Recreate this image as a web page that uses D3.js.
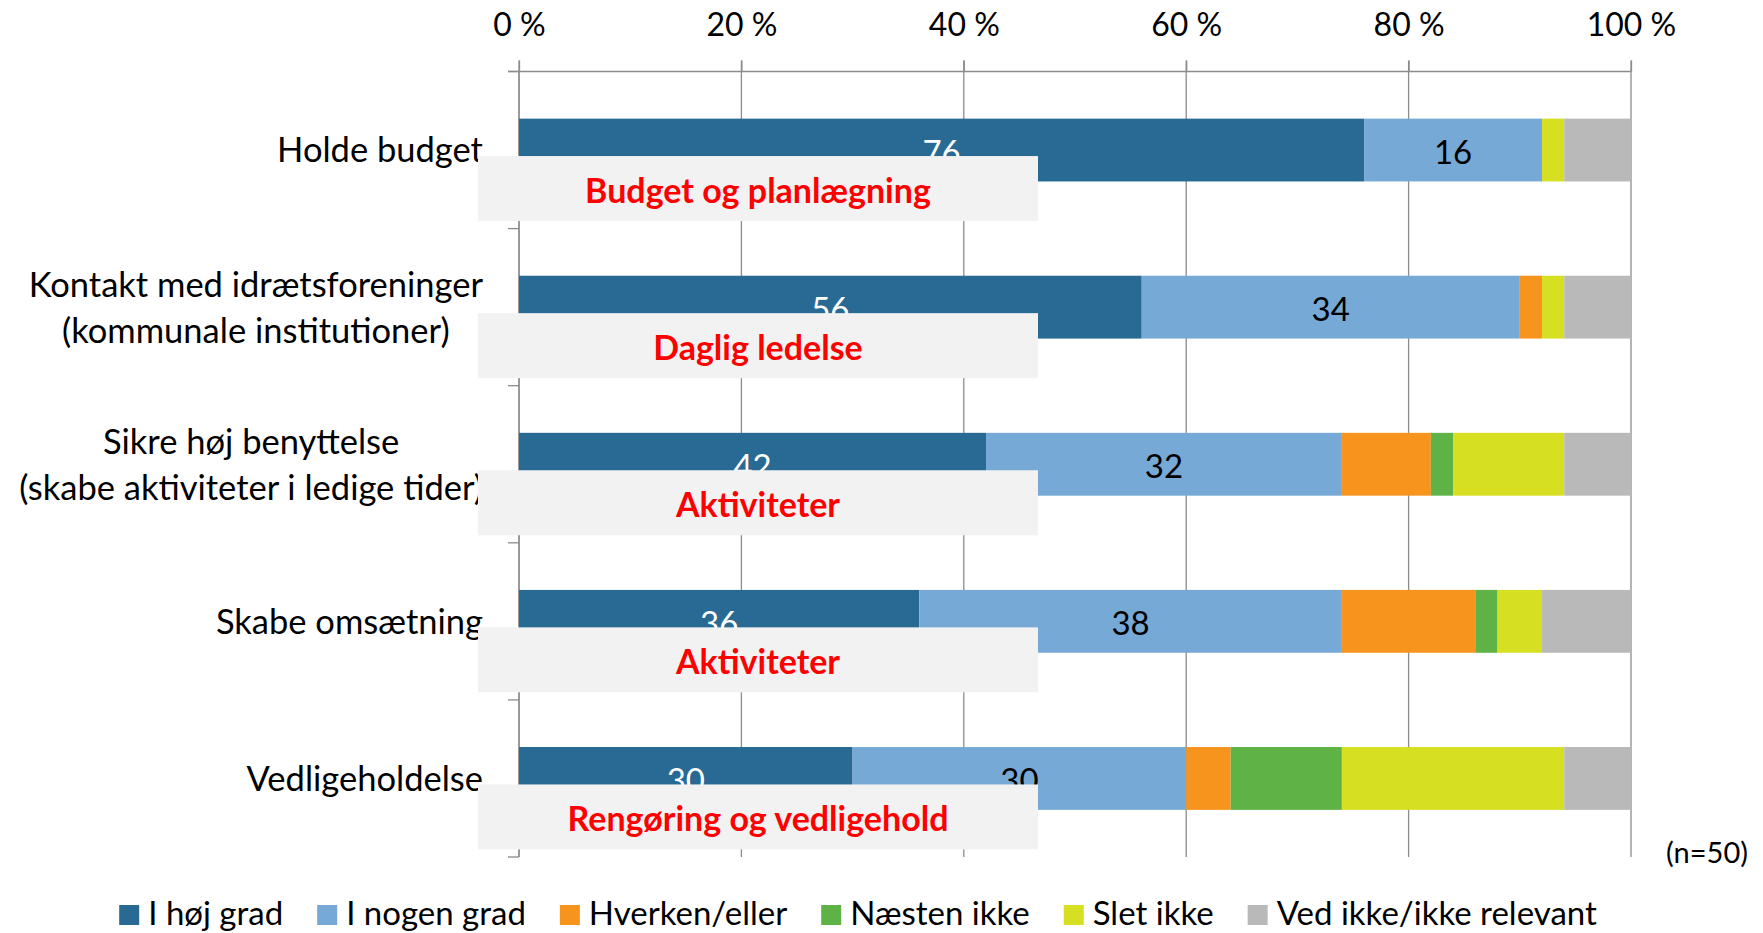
<!DOCTYPE html>
<html>
<head>
<meta charset="utf-8">
<script src="https://cdn.jsdelivr.net/npm/d3@7"></script>
<style>
  body { margin: 0; background: #fff; }
  svg { display: block; font-family: Lato, 'Noto Sans', sans-serif; }
  .tick text { font-size: 32px; fill: #000; }
  .cat { font-size: 34.5px; fill: #000; }
  .val { font-size: 33px; }
  .note { font-size: 34px; font-weight: bold; fill: #ff0000; }
  .legend text { font-size: 33px; fill: #000; }
</style>
</head>
<body>
<div id="chart"></div>
<script>
var categories = [
  ['Holde budget'],
  ['Kontakt med idrætsforeninger', '(kommunale institutioner)'],
  ['Sikre høj benyttelse', '(skabe aktiviteter i ledige tider)'],
  ['Skabe omsætning'],
  ['Vedligeholdelse']
];
var series = ['I høj grad', 'I nogen grad', 'Hverken/eller', 'Næsten ikke', 'Slet ikke', 'Ved ikke/ikke relevant'];
var colors = ['#286a93', '#77a9d7', '#f7941d', '#5eb246', '#d6df22', '#b9b9b9'];
var hoejGrad    = [76, 56, 42, 36, 30];
var nogenGrad   = [16, 34, 32, 38, 30];
var hverken     = [0, 2, 8, 12, 4];
var naestenIkke = [0, 0, 2, 2, 10];
var sletIkke    = [2, 2, 10, 4, 20];
var vedIkke     = [6, 6, 6, 8, 6];
var notes = ['Budget og planlægning', 'Daglig ledelse', 'Aktiviteter', 'Aktiviteter', 'Rengøring og vedligehold'];
var xTicks = [0, 20, 40, 60, 80, 100];
var nLabel = '(n=50)';

var width = 1763, height = 933;
var plotLeft = 519, plotRight = 1631, plotTop = 71.5, plotBottom = 857;

var rows = categories.map((c, i) => ({
  key: c.join(' '),
  lines: c,
  'I høj grad': hoejGrad[i],
  'I nogen grad': nogenGrad[i],
  'Hverken/eller': hverken[i],
  'Næsten ikke': naestenIkke[i],
  'Slet ikke': sletIkke[i],
  'Ved ikke/ikke relevant': vedIkke[i]
}));

var svg = d3.select('#chart').append('svg')
  .attr('width', width)
  .attr('height', height);

var x = d3.scaleLinear().domain([0, 100]).range([plotLeft, plotRight]);
var y = d3.scaleBand()
  .domain(rows.map(d => d.key))
  .range([plotTop, plotBottom])
  .paddingInner(0.6)
  .paddingOuter(0.3);

var color = d3.scaleOrdinal().domain(series).range(colors);

// gridlines
svg.append('g')
  .selectAll('line')
  .data(xTicks)
  .enter()
  .append('line')
  .attr('x1', d => x(d))
  .attr('x2', d => x(d))
  .attr('y1', plotTop - 11)
  .attr('y2', plotBottom)
  .attr('stroke', '#8c8c8c')
  .attr('stroke-width', 1.3);

// top axis
var xAxis = d3.axisTop(x)
  .tickValues(xTicks)
  .tickFormat(d => d + ' %')
  .tickSize(11)
  .tickPadding(25);

var gx = svg.append('g')
  .attr('transform', 'translate(0,' + plotTop + ')')
  .call(xAxis);
gx.select('.domain').remove();
gx.selectAll('.tick line').attr('stroke', '#8c8c8c').attr('stroke-width', 1.3);
gx.attr('font-family', null).attr('font-size', null);

svg.append('line')
  .attr('x1', plotLeft - 11)
  .attr('x2', plotRight)
  .attr('y1', plotTop)
  .attr('y2', plotTop)
  .attr('stroke', '#8c8c8c')
  .attr('stroke-width', 1.6);

// left axis with ticks on band boundaries
var step = y.step();
var bounds = rows.map(d => y(d.key) + y.bandwidth() / 2 - step / 2);
bounds.push(bounds[bounds.length - 1] + step);

svg.append('line')
  .attr('x1', plotLeft).attr('x2', plotLeft)
  .attr('y1', plotTop).attr('y2', plotBottom)
  .attr('stroke', '#8c8c8c')
  .attr('stroke-width', 1.3);

svg.append('g')
  .selectAll('line')
  .data(bounds)
  .enter()
  .append('line')
  .attr('x1', plotLeft - 11)
  .attr('x2', plotLeft)
  .attr('y1', d => d)
  .attr('y2', d => d)
  .attr('stroke', '#8c8c8c')
  .attr('stroke-width', 1.3);

// stacked bars
var stacked = d3.stack().keys(series)(rows);

var layers = svg.append('g')
  .selectAll('g')
  .data(stacked)
  .enter()
  .append('g')
  .attr('fill', d => color(d.key));

layers.selectAll('rect')
  .data(d => d)
  .enter()
  .append('rect')
  .attr('x', d => x(d[0]))
  .attr('y', d => y(d.data.key))
  .attr('width', d => x(d[1]) - x(d[0]))
  .attr('height', y.bandwidth());

// value labels for the first two series
stacked.slice(0, 2).forEach((layer, li) => {
  svg.append('g')
    .selectAll('text')
    .data(layer)
    .enter()
    .append('text')
    .attr('class', 'val')
    .attr('x', d => (x(d[0]) + x(d[1])) / 2)
    .attr('y', d => y(d.data.key) + y.bandwidth() / 2 + 2)
    .attr('dy', '0.36em')
    .attr('text-anchor', 'middle')
    .attr('fill', li === 0 ? '#fff' : '#000')
    .text(d => d[1] - d[0]);
});

// category labels
var labelRight = 483;
var lineH = 46;
rows.forEach(d => {
  var g = svg.append('g');
  var cy = y(d.key) + y.bandwidth() / 2;
  var texts = g.selectAll('text')
    .data(d.lines)
    .enter()
    .append('text')
    .attr('class', 'cat')
    .attr('text-anchor', 'middle')
    .attr('y', (t, i) => cy + (i - (d.lines.length - 1) / 2) * lineH)
    .attr('dy', '0.36em')
    .text(t => t);
  var maxW = d3.max(texts.nodes(), n => n.getComputedTextLength());
  texts.attr('x', labelRight - maxW / 2);
});

// grey annotation boxes
var boxW = 560, boxH = 65, boxX = 478;
var notesG = svg.append('g')
  .selectAll('g')
  .data(rows)
  .enter()
  .append('g')
  .attr('transform', d => 'translate(' + boxX + ',' + (y(d.key) + y.bandwidth() / 2 + 6) + ')');

notesG.append('rect')
  .attr('width', boxW)
  .attr('height', boxH)
  .attr('fill', '#f2f2f2');

notesG.append('text')
  .attr('class', 'note')
  .attr('x', boxW / 2)
  .attr('y', boxH / 2 + 2)
  .attr('dy', '0.36em')
  .attr('text-anchor', 'middle')
  .text((d, i) => notes[i]);

// n label
svg.append('text')
  .attr('x', 1748)
  .attr('y', 863)
  .attr('text-anchor', 'end')
  .style('font-size', '29px')
  .text(nLabel);

// legend
var legend = svg.append('g').attr('class', 'legend');
var items = legend.selectAll('g')
  .data(series)
  .enter()
  .append('g');
items.append('rect')
  .attr('width', 20)
  .attr('height', 20)
  .attr('y', 905)
  .attr('fill', d => color(d));
items.append('text')
  .attr('x', 29)
  .attr('y', 925)
  .text(d => d);

var gap = 34;
var pos = 0, offsets = [];
items.each(function () {
  offsets.push(pos);
  pos += 29 + this.querySelector('text').getComputedTextLength() + gap;
});
var total = pos - gap;
var start = 858 - total / 2;
items.attr('transform', (d, i) => 'translate(' + (start + offsets[i]) + ',0)');
</script>
</body>
</html>
